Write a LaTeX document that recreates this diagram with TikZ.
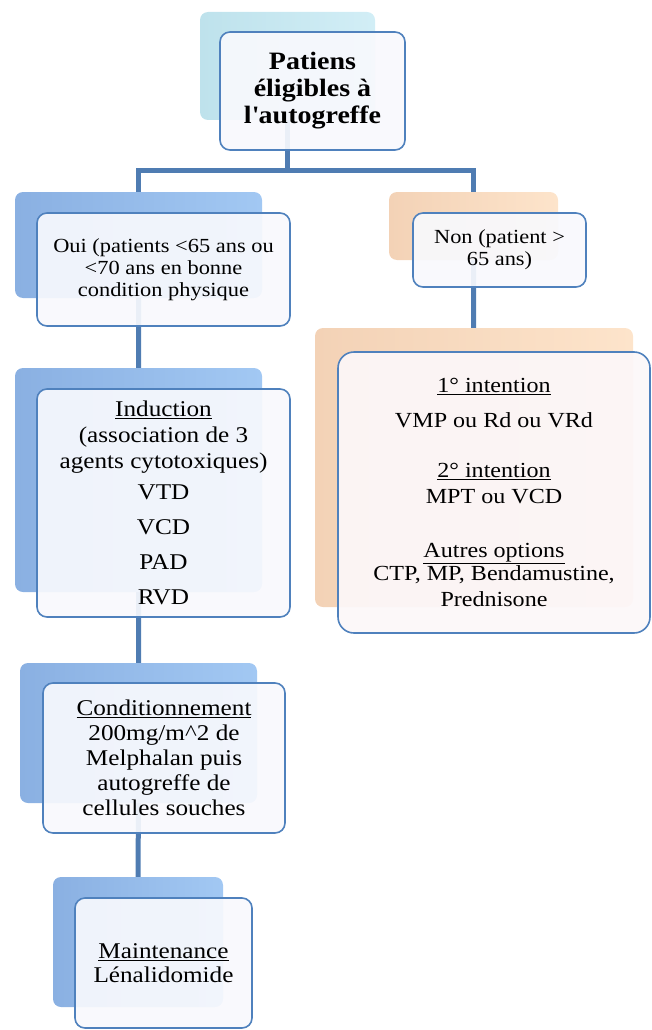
\documentclass[tikz,border=0pt]{standalone}
\usepackage{fontspec}
\setmainfont[FakeStretch=1.12]{Liberation Serif}
\pgfdeclarelayer{background}
\pgfsetlayers{background,main}

\definecolor{linkblue}{RGB}{79,124,178}
\definecolor{frameblue}{RGB}{79,129,189}
\definecolor{blueleft}{RGB}{138,176,226}
\definecolor{blueright}{RGB}{162,200,243}
\definecolor{peachleft}{RGB}{243,210,182}
\definecolor{peachright}{RGB}{253,228,203}
\definecolor{cyanleft}{RGB}{190,226,236}
\definecolor{cyanright}{RGB}{210,238,246}
\definecolor{paleblue}{RGB}{248,249,253}
\definecolor{palepink}{RGB}{252,247,249}

\tikzset{
	backbox/.style={rounded corners=8pt, inner sep=0pt, left color=#1left, right color=#1right},
	frontbox/.style={rounded corners=10pt, draw=frameblue, line width=1.6pt, fill=paleblue,
		fill opacity=0.92, text opacity=1, align=center, inner sep=0pt},
	link/.style={draw=linkblue, line width=5pt}
}

\begin{document}
\begin{tikzpicture}[x=1pt, y=-1pt]
			%%%%% START %%%%%
			\useasboundingbox (0,0) rectangle (652,1030);
			
			% racine
			\node[backbox=cyan, minimum width=175, minimum height=108] (topback) at (287.5,66) {};
			\node[frontbox, minimum width=185, minimum height=118,
				font=\fontsize{25}{27}\selectfont\bfseries] (top) at (312.5,91)
				{Patiens\\ éligibles à\\ l\textquotesingle autogreffe};
			
			% branche oui
			\node[backbox=blue, minimum width=247, minimum height=106] (ouiback) at (138.5,245) {};
			\node[frontbox, minimum width=253, minimum height=113,
				font=\fontsize{20}{22}\selectfont] (oui) at (163.5,269.5)
				{Oui (patients <65 ans ou\\ <70 ans en bonne\\ condition physique};
			
			\node[backbox=blue, minimum width=247, minimum height=224] (inductionback) at (138.5,480) {};
			\node[frontbox, minimum width=253, minimum height=228,
				font=\fontsize{22.5}{26}\selectfont] (induction) at (163.5,503)
				{\underline{Induction}\\ (association de 3\\ agents cytotoxiques)\\[5pt]
				 VTD\\[9pt] VCD\\[9pt] PAD\\[9pt] RVD};
			
			\node[backbox=blue, minimum width=237, minimum height=140] (condback) at (138.5,733) {};
			\node[frontbox, minimum width=242, minimum height=150,
				font=\fontsize{22.5}{25}\selectfont] (cond) at (164,758)
				{\underline{Conditionnement}\\ 200mg/m\textasciicircum 2 de\\ Melphalan puis\\
				 autogreffe de\\ cellules souches};
			
			\node[backbox=blue, minimum width=170, minimum height=130] (maintback) at (138,942) {};
			\node[frontbox, minimum width=177, minimum height=130,
				font=\fontsize{22.5}{24}\selectfont] (maint) at (163.5,963)
				{\underline{Maintenance}\\ Lénalidomide};
			
			% branche non
			\node[backbox=peach, minimum width=169, minimum height=68] (nonback) at (473.5,226) {};
			\node[frontbox, minimum width=173, minimum height=74,
				font=\fontsize{20}{22}\selectfont] (non) at (499.5,250)
				{Non (patient >\\ 65 ans)};
			
			\node[backbox=peach, minimum width=318, minimum height=279] (optionsback) at (474,467.5) {};
			\node[frontbox, fill=palepink, rounded corners=16pt, minimum width=312, minimum height=281,
				font=\fontsize{21.5}{26}\selectfont] (options) at (494,492.5)
				{\underline{1° intention}\\[9pt] VMP ou Rd ou VRd\\[24pt]
				 \underline{2° intention}\\ MPT ou VCD\\[28pt]
				 \underline{Autres options}\\[-3pt] CTP, MP, Bendamustine,\\ Prednisone};
			
			% liens
			\coordinate (split) at (287.5,170);
			\begin{pgfonlayer}{background}
				\draw[link] (topback.center) -- (topback.center |- split) -| (ouiback.center);
				\draw[link] (topback.center |- split) -| (nonback.center);
				\draw[link] (ouiback.center) -- (inductionback.center) -- (condback.center) -- (maintback.center);
				\draw[link] (nonback.center) -- (optionsback.center);
			\end{pgfonlayer}
			
			%%%%% END %%%%%
\end{tikzpicture}
\end{document}
